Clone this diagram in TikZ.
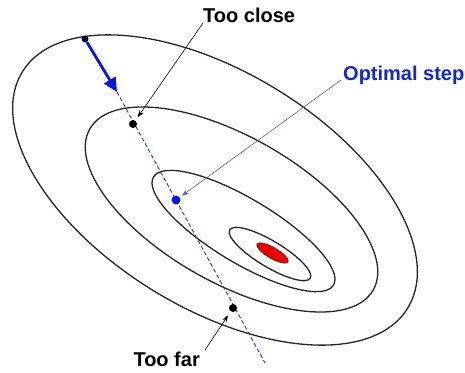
\documentclass[tikz,border=0pt]{standalone}
\usepackage{fontspec}
\setmainfont{Liberation Sans}
\usetikzlibrary{positioning,arrows.meta,calc}
\definecolor{stepblue}{HTML}{0A14DC}
\definecolor{lineblue}{HTML}{28409E}
\definecolor{textblue}{HTML}{1428C8}
\definecolor{pointerblue}{HTML}{5A64A0}
\definecolor{minred}{HTML}{E60000}

\begin{document}
\begin{tikzpicture}[
    x=1pt, y=-1pt,
    contour/.style={line width=1.3pt, draw=black!85},
    dot/.style={circle, fill=black, inner sep=0pt, minimum size=8pt},
    tag/.style={inner sep=0pt, font=\bfseries\fontsize{20}{24}\selectfont},
    pointer/.style={line width=0.6pt, -{Stealth[length=7pt,width=5pt]}},
    searchline/.style={lineblue, line width=0.9pt, dash pattern=on 4pt off 2.5pt},
    steparrow/.style={stepblue, line width=2.8pt, -{Triangle[length=14pt,width=13pt]}},
  ]
    \useasboundingbox (0,0) rectangle (465,372);

    % level curves
    \draw[contour, rotate around={-31.5:(215,190)}] (215,190) ellipse [x radius=226, y radius=118];
    \draw[contour, rotate around={-29.6:(231.5,209.5)}] (231.5,209.5) ellipse [x radius=163, y radius=73];
    \draw[contour, rotate around={-31:(243.5,231)}] (243.5,231) ellipse [x radius=105, y radius=32];
    \draw[contour, rotate around={-31:(270,254)}] (270,254) ellipse [x radius=47, y radius=13];
    \draw[fill=minred, draw=minred!50!black, line width=0.6pt, rotate around={-30:(272.5,253)}] (272.5,253) ellipse [x radius=18, y radius=5.5];

    % search direction
    \coordinate (tip) at (117,92);
    \coordinate (end) at (265,363);
    \draw[searchline] (tip) -- (end);
    \node[dot, fill=black!80!blue, minimum size=7pt] (start) at (85,39) {};
    \draw[steparrow] (start) -- (tip);

    \node[dot] (closedot) at (133,124) {};
    \node[dot, fill=stepblue, minimum size=9pt] (optdot) at (176,200) {};
    \node[dot] (fardot) at (233,308) {};

    % labels
    \node[tag, anchor=south west] (close) at (203,23) {Too close};
    \node[tag, anchor=base west, textblue] (optimal) at (343,80) {Optimal step};
    \node[tag, anchor=north east] (far) at (200,352) {Too far};

    \draw[pointer, shorten >=4pt] (close.south west) -- (closedot);
    \draw[pointer, pointerblue, shorten >=2.5pt] ([xshift=-2pt]optimal.base west) -- (optdot);
    \draw[pointer, shorten >=4.5pt] ([xshift=5pt,yshift=2pt]far.north east) -- (fardot);
  \end{tikzpicture}
\end{document}
